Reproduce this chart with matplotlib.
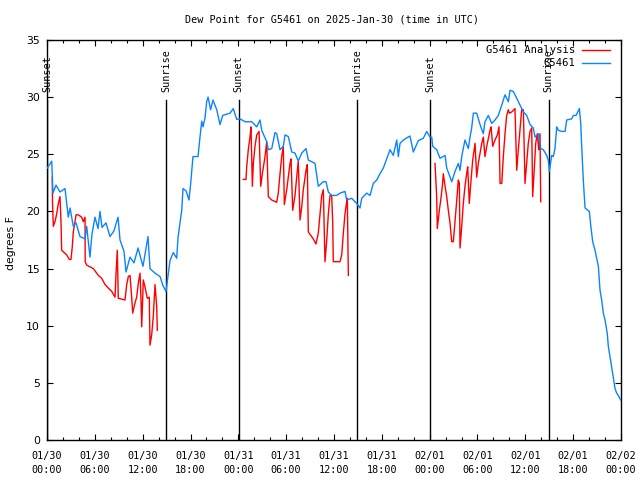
import numpy as np
import matplotlib
matplotlib.use("Agg")
import matplotlib.pyplot as plt
from matplotlib.ticker import MultipleLocator, FixedLocator
import matplotlib.transforms as mtransforms

# ---------------- data (hours since 2025-01-30 00:00 UTC) ----------------
obs_hours = [0.04, 0.59, 0.75, 1.13, 1.63, 2.26, 2.67, 2.89, 3.30, 3.64, 4.14, 4.77, 4.98,
             5.39, 5.64, 6.02, 6.40, 6.65, 6.90, 7.40, 7.90, 8.40, 8.91, 9.16, 9.66, 9.91,
             10.41, 10.91, 11.42, 12.04, 12.67, 12.92, 13.55, 14.18, 14.55, 14.93, 15.43,
             15.84, 16.27, 16.43, 16.90, 17.06, 17.44, 17.81, 18.03, 18.31, 18.94, 19.19,
             19.41, 19.57, 19.82, 20.03, 20.20, 20.53, 20.82, 21.29, 21.70, 22.04, 22.96,
             23.37, 23.80, 24.21, 24.84, 25.68, 26.31, 26.72, 26.93, 27.56, 27.76, 28.19,
             28.60, 28.81, 29.23, 29.64, 29.86, 30.27, 30.70, 31.11, 31.52, 31.95, 32.49,
             32.78, 33.62, 34.03, 34.66, 35.00, 35.29, 35.71, 36.34, 36.75, 37.38, 37.59,
             38.22, 38.85, 39.26, 39.48, 40.10, 40.52, 40.93, 41.36, 41.77, 42.19, 42.61,
             43.03, 43.44, 43.87, 44.07, 44.28, 44.69, 45.53, 45.95, 46.58, 47.20, 47.63,
             48.04, 48.26, 48.38, 48.88, 49.30, 49.93, 50.14, 50.77, 51.18, 51.59, 51.81,
             52.02, 52.43, 52.85, 53.06, 53.27, 53.48, 53.90, 54.32, 54.73, 54.94, 55.36,
             55.78, 56.20, 56.61, 57.04, 57.45, 57.87, 58.08, 58.49, 58.92, 59.33, 59.75,
             60.17, 60.59, 61.00, 61.22, 61.63, 61.93, 62.26, 62.68, 62.88, 63.01, 63.31,
             63.51, 63.72, 63.94, 64.14, 64.56, 64.98, 65.19, 65.82, 66.02, 66.36, 66.78,
             66.95, 67.07, 67.27, 67.49, 68.03, 68.20, 68.45, 68.74, 69.16, 69.37, 69.58,
             69.78, 70.00, 70.28, 70.41, 70.62, 70.83, 71.03, 71.25, 71.46, 71.66, 71.96]
obs_values = [23.8, 24.4, 21.6, 22.3, 21.7, 22.0, 19.5, 20.3, 18.7, 19.0, 17.8, 17.6, 18.7,
              16.0, 18.0, 19.5, 18.5, 20.0, 18.6, 19.0, 17.8, 18.3, 19.5, 17.5, 16.5, 14.7,
              16.0, 15.5, 16.8, 15.2, 17.8, 15.0, 14.6, 14.3, 13.5, 13.0, 15.7,
              16.4, 15.9, 17.7, 20.1, 22.0, 21.8, 21.0, 22.5, 24.8, 24.8, 26.5,
              27.9, 27.4, 28.2, 29.6, 30.0, 28.9, 29.75, 28.9, 27.6, 28.4, 28.6,
              29.0, 28.05, 28.1, 27.85, 27.85, 27.4, 28.0, 27.1, 26.1, 25.4, 25.5,
              26.9, 26.8, 25.4, 25.7, 26.7, 26.55, 25.2, 25.1, 24.4, 25.1, 25.5,
              24.5, 24.2, 22.2, 22.6, 22.6, 21.7, 21.4, 21.4, 21.6, 21.75, 21.0,
              21.15, 20.7, 20.3, 21.15, 21.6, 21.4, 22.45, 22.75, 23.3, 23.8, 24.6,
              25.4, 24.9, 26.25, 24.8, 25.95, 26.25, 26.6, 25.2, 26.2, 26.4, 27.0,
              26.5, 26.5, 25.7, 25.4, 24.65, 24.9, 23.8, 22.6, 23.5, 24.2, 23.6,
              24.8, 26.25, 25.5, 26.5, 27.3, 28.6, 28.6, 27.6, 26.8, 27.85, 28.4,
              27.7, 28.0, 28.4, 29.3, 30.2, 29.6, 30.6, 30.5, 29.9, 29.3, 28.7,
              28.4, 27.6, 27.3, 26.5, 26.8, 25.5, 25.4, 24.9, 24.5, 23.5, 24.9,
              24.8, 25.5, 27.4, 27.1, 27.0, 27.0, 28.0, 28.1, 28.4, 28.4, 29.0,
              27.7, 25.7, 22.75, 20.3, 20.0, 18.8, 17.35, 16.6, 15.2, 13.1, 12.25,
              11.1, 10.5, 9.3, 8.2, 7.3, 6.4, 5.5, 4.5, 4.1, 3.9, 3.5]

nan = float("nan")
ana_hours = [0.66, 0.69, 0.79, 1.00, 1.22, 1.42, 1.63, 1.76, 1.84, 2.47, 2.80, 3.01, 3.17,
             3.30, 3.64, 3.93, 4.35, 4.55, 4.77, 4.79, 4.98, 5.81, 6.44, 6.86, 7.28, 7.69,
             8.12, 8.53, 8.66, 8.82, 8.94, 9.78, 10.00, 10.20, 10.41, 10.62, 10.75, 11.04,
             11.25, 11.45, 11.67, 11.79, 11.88, 12.08, 12.29, 12.58, 12.83, 12.92, 13.13,
             13.33, 13.55, 13.76, 13.84, 19.0,
             24.62, 24.96, 25.05, 25.25, 25.46, 25.59, 25.76, 25.88, 26.09, 26.31, 26.60,
             26.81, 27.01, 27.35, 27.56, 27.76, 28.19, 28.81, 29.01, 29.23, 29.44, 29.64,
             29.77, 30.07, 30.27, 30.48, 30.61, 30.82, 31.11, 31.32, 31.52, 31.74, 31.95,
             32.15, 32.49, 32.65, 32.78, 33.40, 33.74, 34.03, 34.25, 34.46, 34.66, 34.87,
             35.09, 35.29, 35.50, 35.71, 35.84, 35.91, 36.75, 36.97, 37.17, 37.38, 37.59,
             37.67, 37.80, 43.0,
             48.67, 48.88, 48.96, 49.21, 49.39, 49.59, 49.71, 49.93, 50.14, 50.34, 50.55,
             50.77, 50.97, 51.18, 51.40, 51.59, 51.72, 51.81, 52.02, 52.22, 52.43, 52.64,
             52.77, 52.97, 53.19, 53.40, 53.69, 53.90, 54.10, 54.32, 54.53, 54.73, 54.94,
             55.16, 55.36, 55.57, 55.70, 55.91, 56.20, 56.49, 56.70, 56.83, 57.04, 57.24,
             57.45, 57.66, 57.87, 57.99, 58.29, 58.70, 58.92, 59.12, 59.33, 59.54, 59.75,
             59.96, 60.17, 60.37, 60.59, 60.80, 60.92, 61.09, 61.30, 61.50, 61.68, 61.84,
             61.93]
ana_values = [23.0, 20.85, 18.7, 19.1, 19.8, 20.7, 21.3, 19.0, 16.6, 16.2, 15.8, 15.8, 16.9,
              18.2, 19.7, 19.7, 19.5, 19.1, 19.5, 15.6, 15.3, 15.0, 14.4, 14.15, 13.6, 13.3,
              13.0, 12.5, 14.6, 16.6, 12.4, 12.25, 13.6, 14.3, 14.4, 12.5, 11.1, 12.0,
              12.5, 13.7, 14.6, 12.25, 9.9, 14.0, 13.4, 12.4, 12.5, 8.3, 9.2,
              10.8, 13.6, 11.7, 9.6, nan,
              22.8, 22.8, 23.9, 25.4, 26.5, 27.4, 22.2, 24.2, 25.7, 26.7, 27.0,
              22.2, 23.3, 24.8, 26.1, 21.3, 21.0, 20.8, 21.6, 23.3, 24.8, 25.7,
              20.6, 21.9, 23.0, 24.2, 24.6, 20.1, 21.4, 23.0, 24.4, 19.25, 20.4,
              21.9, 23.6, 24.1, 18.2, 17.6, 17.15, 18.1, 19.8, 21.4, 21.9, 15.6,
              17.5, 19.8, 21.4, 21.4, 19.0, 15.6, 15.6, 16.2, 18.1, 19.8, 20.85,
              21.15, 14.4, nan,
              24.2, 21.3, 18.5, 20.1, 21.0, 22.2, 23.3, 22.2, 21.3, 20.1, 19.0,
              17.35, 17.35, 19.1, 21.0, 22.75, 22.5, 16.8, 18.7, 20.7, 22.2, 23.3,
              23.9, 20.7, 22.75, 24.5, 25.95, 23.0, 24.2, 25.1, 25.95, 26.5, 24.8,
              25.7, 26.4, 27.1, 27.4, 25.7, 26.25, 26.7, 27.4, 22.45, 22.45, 24.8,
              26.8, 28.4, 28.9, 28.6, 28.7, 29.0, 23.6, 25.4, 27.1, 28.9, 28.9,
              22.45, 24.2, 25.95, 27.0, 27.3, 21.3, 23.3, 25.95, 26.8, 25.4, 26.8,
              20.85]

event_hours = [0.05, 14.97, 24.05, 38.9, 48.07, 62.95]
event_labels = ["Sunset", "Sunrise", "Sunset", "Sunrise", "Sunset", "Sunrise"]

tick_hours = list(range(0, 73, 6))
tick_labels = ["01/30\n00:00", "01/30\n06:00", "01/30\n12:00", "01/30\n18:00",
               "01/31\n00:00", "01/31\n06:00", "01/31\n12:00", "01/31\n18:00",
               "02/01\n00:00", "02/01\n06:00", "02/01\n12:00", "02/01\n18:00",
               "02/02\n00:00"]

title = "Dew Point for G5461 on 2025-Jan-30 (time in UTC)"
ylabel = "degrees F"
ana_label = "G5461 Analysis"
obs_label = "G5461"
red = "#ff0000"
blue = "#0a84ff"

# ---------------- figure ----------------
fig = plt.figure(figsize=(6.4, 4.8), dpi=100)
ax = fig.add_axes([47 / 640, 40 / 480, (621 - 47) / 640, 400 / 480])
mono = "DejaVu Sans Mono"
fs = 7.3

ax.plot(ana_hours, ana_values, color=red, lw=1.0, zorder=3)
ax.plot(obs_hours, obs_values, color=blue, lw=1.0, zorder=4)

trans = mtransforms.blended_transform_factory(ax.transData, ax.transAxes)
for h, lab in zip(event_hours, event_labels):
    ax.plot([h, h], [0, 0.85], color="black", lw=1.0, transform=trans, zorder=2)
    ax.text(h, 0.87, lab, rotation=90, ha="center", va="bottom", transform=trans,
            fontsize=fs, family=mono, zorder=5)

ax.set_xlim(0, 72)
ax.set_ylim(0, 35)
ax.xaxis.set_major_locator(FixedLocator(tick_hours))
ax.set_xticklabels(tick_labels, family=mono, fontsize=fs, linespacing=1.45)
ax.xaxis.set_minor_locator(MultipleLocator(2))
ax.yaxis.set_major_locator(MultipleLocator(5))
for t in ax.get_yticklabels():
    t.set_fontsize(fs + 0.5)
ax.tick_params(which="major", direction="in", length=4.3, width=0.8, top=True, right=True,
               labelsize=fs)
ax.tick_params(which="minor", direction="in", length=2.2, width=0.8, top=True, right=False)
ax.tick_params(axis="x", pad=8)
ax.tick_params(axis="y", pad=5, labelsize=fs + 0.5)
for s in ax.spines.values():
    s.set_linewidth(1.0)

# legend (gnuplot style: right-justified text, sample line to the right)
ax.text(575 / 640, 1 - 50 / 480, ana_label, transform=fig.transFigure, ha="right",
        va="center", fontsize=fs + 0.3, family=mono, zorder=6)
ax.text(575 / 640, 1 - 63 / 480, obs_label, transform=fig.transFigure, ha="right",
        va="center", fontsize=fs + 0.3, family=mono, zorder=6)
ax.plot([582 / 640, 610 / 640], [1 - 50 / 480] * 2, color=red, lw=1.0,
        transform=fig.transFigure, clip_on=False, zorder=6)
ax.plot([582 / 640, 610 / 640], [1 - 63 / 480] * 2, color=blue, lw=1.0,
        transform=fig.transFigure, clip_on=False, zorder=6)

fig.text(332 / 640, 1 - 20 / 480, title, ha="center", va="center", fontsize=fs,
         family=mono)
fig.text(11 / 640, 1 - 243 / 480, ylabel, rotation=90, ha="center", va="center",
         fontsize=fs + 0.5)

fig.savefig("out.png", dpi=100)
